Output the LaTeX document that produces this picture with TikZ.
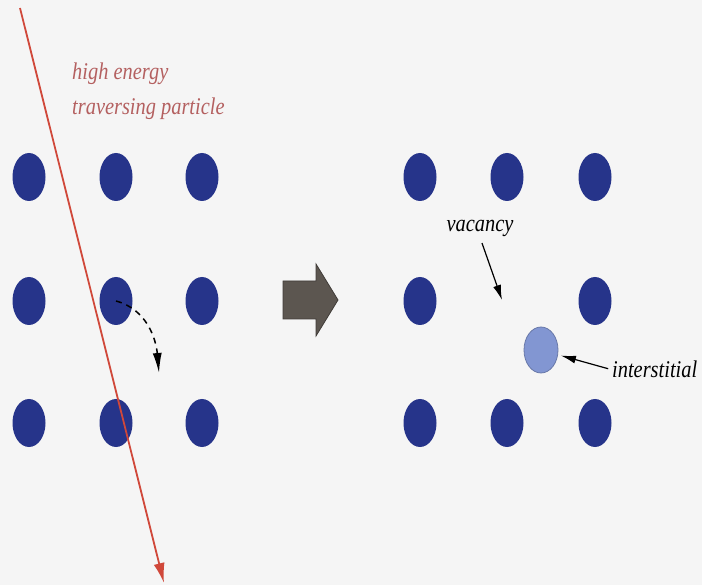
\documentclass[tikz,border=0pt]{standalone}
\usepackage{fontspec}
\setmainfont{Liberation Serif}
\newfontfamily\condfont[FakeStretch=0.85]{Liberation Serif}
\usepackage{tikz}
\usetikzlibrary{arrows.meta,shapes.geometric}

\definecolor{bgcol}{RGB}{245,245,245}
\definecolor{atomblue}{RGB}{38,52,138}
\definecolor{interblue}{RGB}{130,150,210}
\definecolor{beamred}{RGB}{208,72,58}
\definecolor{beamtext}{RGB}{180,96,96}
\definecolor{shiftgray}{RGB}{92,86,80}

\begin{document}
\begin{tikzpicture}[
		x=1pt, y=-1pt,
		>=Latex,
		atom/.style={ellipse, fill=atomblue, inner sep=0pt, minimum width=33pt, minimum height=48pt},
		inter/.style={ellipse, fill=interblue, draw=interblue!80!black, line width=0.8pt, inner sep=0pt, minimum width=34pt, minimum height=46pt},
		lbl/.style={font=\condfont\fontsize{24}{35}\selectfont\itshape, inner sep=0pt},
		pointer/.style={-{Latex[length=15pt,width=8pt]}, line width=1.2pt}
		]
		
		% --------------------------------------------------
		% Background
		% --------------------------------------------------
		\fill[bgcol] (0,0) rectangle (702,585);
		\useasboundingbox (0,0) rectangle (702,585);
		
		% --------------------------------------------------
		% LEFT LATTICE
		% --------------------------------------------------
		\foreach \x/\c in {29/1,116/2,202/3}
		\foreach \y/\r in {177/1,301/2,423/3}
		\node[atom] (L\r\c) at (\x,\y) {};
		
		% particle track
		\coordinate (beamtop) at (20,8);
		\coordinate (beamend) at (164,583);
		\draw[beamred, line width=1.8pt, -{Latex[length=20pt,width=11pt]}] (beamtop) -- (beamend);
		
		\node[lbl, text=beamtext, align=left, anchor=base west] (beamlbl) at (72,115) {high energy\\traversing particle};
		
		% displaced atom
		\coordinate (hop) at (159,373);
		\draw[line width=1.5pt, dash pattern=on 6pt off 5pt, -{Latex[length=20pt,width=9pt]}] (L22.center) to[out=-15,in=95] (hop);
		
		% --------------------------------------------------
		% ARROW
		% --------------------------------------------------
		\filldraw[fill=shiftgray, draw=shiftgray!70!black, line width=0.8pt]
		(283,281) -- (316,281) -- (316,264) -- (338,300) -- (316,336) -- (316,319) -- (283,319) -- cycle;
		
		% --------------------------------------------------
		% RIGHT LATTICE
		% --------------------------------------------------
		\foreach \x/\y/\n in {420/177/11,507/177/12,595/177/13,420/301/21,595/301/23,420/423/31,507/423/32,595/423/33}
		\node[atom] (R\n) at (\x,\y) {};
		
		\node[inter] (inter) at (541,350) {};
		\coordinate (vac) at (502,300);
		
		\node[lbl, anchor=base] (vaclbl) at (480,232) {vacancy};
		\node[lbl, anchor=base west] (intlbl) at (612,378) {interstitial};
		
		\draw[pointer, shorten <=6pt] (vaclbl.south) -- (vac);
		\draw[pointer, shorten <=4pt, shorten >=3pt] (intlbl.west) -- (inter);
		
	\end{tikzpicture}
\end{document}
